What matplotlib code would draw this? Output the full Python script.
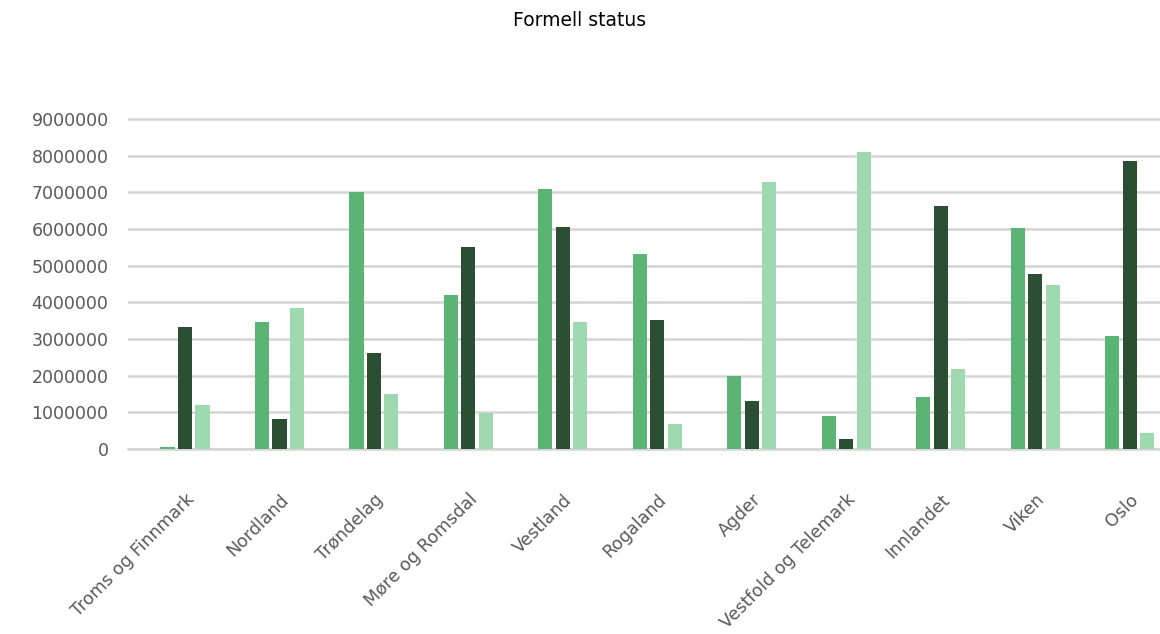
import matplotlib
matplotlib.use("Agg")
import matplotlib.pyplot as plt
import numpy as np

categories = ["Troms og Finnmark", "Nordland", "Trøndelag", "Møre og Romsdal",
              "Vestland", "Rogaland", "Agder", "Vestfold og Telemark",
              "Innlandet", "Viken", "Oslo"]
series_a = [50000, 3470000, 7000000, 4200000, 7080000, 5320000, 1980000, 900000, 1420000, 6020000, 3090000]
series_b = [3330000, 810000, 2610000, 5510000, 6050000, 3530000, 1320000, 260000, 6630000, 4770000, 7860000]
series_c = [1190000, 3850000, 1500000, 990000, 3470000, 690000, 7290000, 8100000, 2170000, 4460000, 450000]
yticks = [0, 1000000, 2000000, 3000000, 4000000, 5000000, 6000000, 7000000, 8000000, 9000000]
title = "Formell status"

colors = ["#5BB473", "#2A4F33", "#9FD9B0"]

W, H = 1160, 634
fig = plt.figure(figsize=(W / 100, H / 100), dpi=100)
ax_left_px, ax_right_px = 128, 1160
y0_px = 449
px_per_m = (449 - 119) / 9.0
ytop = 9.1e6
top_px = y0_px - ytop / 1e6 * px_per_m
ax = fig.add_axes([ax_left_px / W, 1 - y0_px / H, (ax_right_px - ax_left_px) / W, (y0_px - top_px) / H])

x = np.arange(len(categories))
w = 0.15
off = 0.185
for i, (vals, c) in enumerate(zip([series_a, series_b, series_c], colors)):
    ax.bar(x + (i - 1) * off, vals, width=w, color=c, zorder=3)

ax.set_xlim(-0.603, 10.32)
ax.set_ylim(0, ytop)
ax.set_yticks(yticks)
ax.set_yticklabels([str(v) for v in yticks])
ax.yaxis.grid(True, color="#D4D4D4", linewidth=1.8, zorder=0)
ax.axhline(0, color="#D4D4D4", linewidth=1.8, zorder=2, clip_on=False)
ax.set_axisbelow(True)
for s in ax.spines.values():
    s.set_visible(False)
ax.tick_params(axis="both", length=0, labelsize=12.5, colors="#595959")
ax.tick_params(axis="y", pad=14)
ax.set_xticks(x)
ax.set_xticklabels(categories, rotation=45, ha="right", rotation_mode="anchor")
ax.tick_params(axis="x", pad=30)

fig.text(580 / W, 1 - 20 / H, title, ha="center", va="center", fontsize=13.5, color="#000000")

fig.savefig("out.png", dpi=100)
